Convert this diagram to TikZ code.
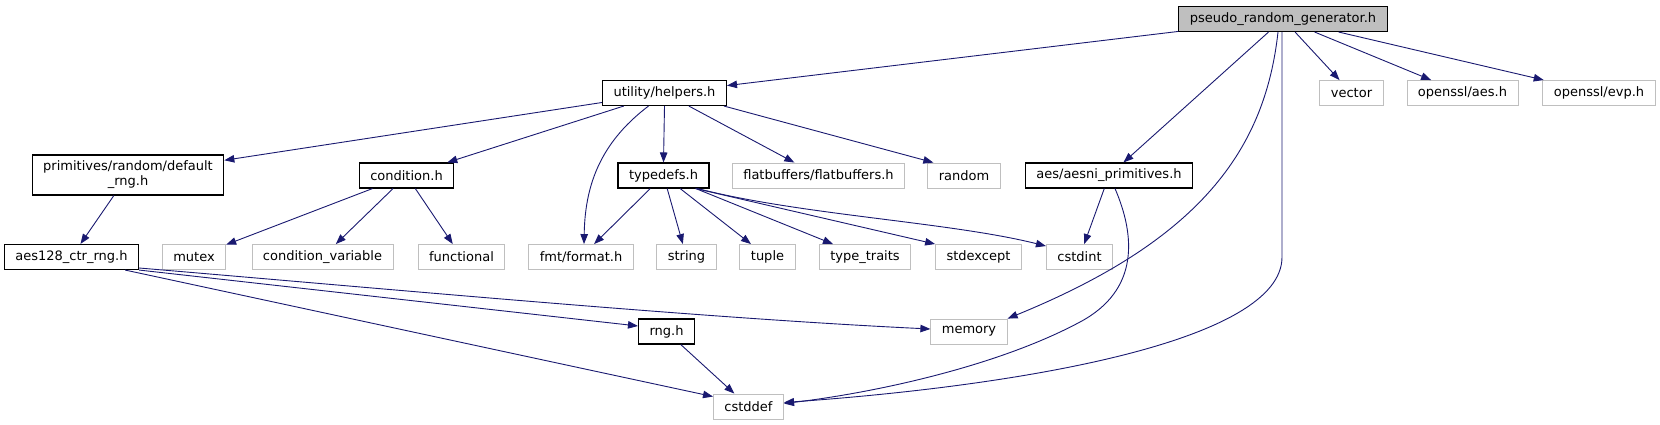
\documentclass[tikz,border=0pt]{standalone}
\usepackage{fontspec}
\setmainfont{DejaVu Sans}
\usetikzlibrary{arrows.meta,calc}
\definecolor{edgeblue}{HTML}{191970}
\definecolor{extgray}{HTML}{BFBFBF}
\begin{document}
\begin{tikzpicture}[x=1pt,y=-1pt,
  box/.style={draw=black,line width=1.1pt,fill=white,inner xsep=11pt,inner ysep=0pt,
    minimum height=25pt,font=\fontsize{13}{15}\selectfont,align=center},
  ext/.style={box,draw=extgray,line width=0.9pt},
  mainbox/.style={box,fill=extgray},
  edge/.style={draw=edgeblue,line width=0.9pt,-{Triangle[length=10pt,width=7.5pt]}}]
\path[use as bounding box] (0,0) rectangle (1660,425);

% nodes
\node[mainbox] (prg) at (1283,19) {pseudo\_random\_generator.h};
\node[box] (helpers) at (664.5,93) {utility/helpers.h};
\node[ext] (vector) at (1351.5,93) {vector};
\node[ext] (aesh) at (1462.5,93) {openssl/aes.h};
\node[ext] (evph) at (1599,93) {openssl/evp.h};
\node[box,minimum height=40pt] (defrng) at (128,175) {primitives/random/default\\\_rng.h};
\node[box] (condition) at (406.5,175.5) {condition.h};
\node[box] (typedefs) at (663.5,175.5) {typedefs.h};
\node[ext] (flatbuffers) at (818.5,175.5) {flatbuffers/flatbuffers.h};
\node[ext] (random) at (964,175.5) {random};
\node[box] (aesni) at (1109,175.5) {aes/aesni\_primitives.h};
\node[box] (aes128) at (71.5,257) {aes128\_ctr\_rng.h};
\node[ext] (mutex) at (194,257) {mutex};
\node[ext] (condvar) at (322.5,257) {condition\_variable};
\node[ext] (functional) at (461.5,257) {functional};
\node[ext] (fmt) at (581,257) {fmt/format.h};
\node[ext] (string) at (686.5,257) {string};
\node[ext] (tuple) at (767.5,257) {tuple};
\node[ext] (typetraits) at (865,257) {type\_traits};
\node[ext] (stdexcept) at (978.5,257) {stdexcept};
\node[ext] (cstdint) at (1079.5,257) {cstdint};
\node[box] (rng) at (666.5,331.5) {rng.h};
\node[ext] (memory) at (969,331.5) {memory};
\node[ext] (cstddef) at (748.5,406.5) {cstddef};

% edges from pseudo_random_generator.h
\draw[edge] (prg) -- (helpers);
\draw[edge] (prg) -- (aesni);
\draw[edge] ($(prg.south)+(-5,0)$) .. controls (1265,150) and (1200,240) .. (memory.north east);
\draw[edge] ($(prg.south)+(-1,0)$) -- ++(0,225) .. controls (1282,340) and (1030,385) .. ($(cstddef.east)+(0,-4)$);
\draw[edge] (prg) -- (vector);
\draw[edge] (prg) -- (aesh);
\draw[edge] (prg) -- (evph);

% edges from utility/helpers.h
\draw[edge] (helpers) -- (defrng);
\draw[edge] (helpers) -- (condition);
\draw[edge] ($(helpers.south)+(-16,0)$) .. controls (597,145) and (585,190) .. ($(fmt.north)+(3,0)$);
\draw[edge] (helpers.south) -- (typedefs.north);
\draw[edge] (helpers) -- (flatbuffers);
\draw[edge] ($(helpers.south east)+(-3,0)$) -- ($(random.north west)+(6,0)$);

% primitives/random/default_rng.h
\draw[edge] (defrng) -- (aes128);

% condition.h
\draw[edge] (condition) -- (mutex);
\draw[edge] (condition) -- (condvar);
\draw[edge] (condition) -- (functional);

% typedefs.h
\draw[edge] (typedefs) -- (fmt);
\draw[edge] (typedefs) -- (string);
\draw[edge] (typedefs) -- (tuple);
\draw[edge] (typedefs) -- (typetraits);
\draw[edge] ($(typedefs.south east)+(-14,0)$) -- (stdexcept.north west);
\draw[edge] ($(typedefs.south east)+(-12,0)$) .. controls (800,215) and (950,222) .. ($(cstdint.north west)+(0,2)$);

% aes/aesni_primitives.h
\draw[edge] (aesni) -- (cstdint);
\draw[edge] ($(aesni.south)+(6,0)$) .. controls (1135,235) and (1140,290) .. (1080,322)
  .. controls (1000,365) and (880,392) .. ($(cstddef.east)+(0,-3)$);

% aes128_ctr_rng.h
\draw[edge] ($(aes128.east)+(0,11)$) .. controls (400,290) and (700,318) .. ($(memory.west)+(0,-2.5)$);
\draw[edge] (aes128.south east) -- ($(rng.west)+(0,-5.5)$);
\draw[edge] ($(aes128.south east)+(-14,0)$) -- ($(cstddef.north west)+(0,3)$);

% rng.h
\draw[edge] (rng) -- (cstddef);
\end{tikzpicture}
\end{document}
